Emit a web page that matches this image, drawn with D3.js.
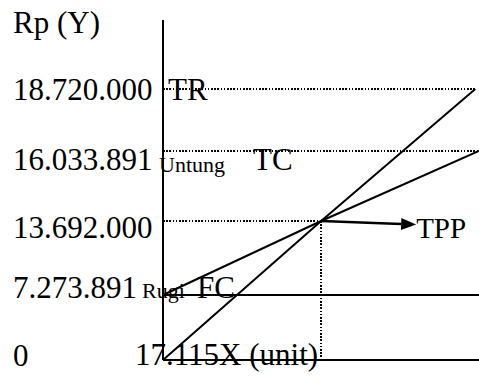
<!DOCTYPE html>
<html><head><meta charset="utf-8">
<script src="https://cdn.jsdelivr.net/npm/d3@7"></script>
<style>
body{margin:0;background:#fff}
</style>
</head><body><svg id="c" width="479" height="382" font-family="'Liberation Serif', 'Times New Roman', Times, 'DejaVu Serif', serif"></svg>
<script>
// ---- data ----
const yTickValues = [0, 7273891, 13692000, 16033891, 18720000];
const yTickLabels = ["0", "7.273.891", "13.692.000", "16.033.891", "18.720.000"];
const bep = {x: 17.115, y: 13692000};
const trX = [0, 17.115, 33.8];
const trY = [0, 13692000, 18720000];
const tcX = [0, 17.115, 34.2];
const tcY = [7273891, 13692000, 16033891];
const fcX = [0, 34.2];
const fcY = [7273891, 7273891];
const curveNames = ["TR", "TC", "FC"];
const areaNames = ["Untung", "Rugi"];
const bepName = "TPP";
const xLabel = "X (unit)";
const yLabel = "Rp (Y)";

// ---- layout ----
const svg = d3.select("#c");
const x = d3.scaleLinear().domain([0, 34.2]).range([163, 479]);
const y = d3.scaleLinear().domain(yTickValues).range([360, 295, 221, 151, 89]);
const labelDy = [6, 3, 17, 19, 11];
const axisTop = 20;

const line = d3.line().x(d => x(d[0])).y(d => y(d[1]));
const zip = (a, b) => a.map((v, i) => [v, b[i]]);

function guide(x1, y1, x2, y2) {
  svg.append("line").attr("x1", x1).attr("y1", y1).attr("x2", x2).attr("y2", y2)
    .attr("stroke", "#000").attr("stroke-width", 1.6).attr("stroke-dasharray", "1.6,1.6")
    .attr("shape-rendering", "crispEdges").attr("fill", "none");
}
guide(x(0), y(trY[2]), x(trX[2]), y(trY[2]));
guide(x(0), y(tcY[2]), x(34.2), y(tcY[2]));
guide(x(0), y(bep.y), x(bep.x), y(bep.y));
guide(x(bep.x), y(bep.y), x(bep.x), y(0));

// axes
svg.append("line").attr("x1", x(0)).attr("x2", x(0)).attr("y1", axisTop).attr("y2", y(0))
  .attr("stroke", "#000").attr("stroke-width", 2);
svg.append("line").attr("x1", x(0)).attr("x2", x(34.2)).attr("y1", y(0)).attr("y2", y(0))
  .attr("stroke", "#000").attr("stroke-width", 2);

// curves
[[trX, trY], [tcX, tcY], [fcX, fcY]].forEach(([a, b]) => {
  svg.append("path").attr("d", line(zip(a, b))).attr("fill", "none")
    .attr("stroke", "#000").attr("stroke-width", 2);
});

// arrow to TPP
const ax0 = x(bep.x), ay0 = y(bep.y);
const tipX = ax0 + 95, tipY = ay0 + 3.5;
const ang = Math.atan2(tipY - ay0, tipX - ax0);
const hl = 15, hw = 6;
const bx = tipX - hl * Math.cos(ang), by = tipY - hl * Math.sin(ang);
svg.append("line").attr("x1", ax0).attr("y1", ay0).attr("x2", bx).attr("y2", by)
  .attr("stroke", "#000").attr("stroke-width", 2.5);
svg.append("polygon").attr("points", [
  [tipX, tipY],
  [bx + hw * Math.sin(ang), by - hw * Math.cos(ang)],
  [bx - hw * Math.sin(ang), by + hw * Math.cos(ang)]
].map(p => p.join(",")).join(" ")).attr("fill", "#000");

// texts
const big = 31, small = 22;
function txt(xp, yp, size, s) {
  svg.append("text").attr("x", xp).attr("y", yp).attr("font-size", size)
    .attr("font-family", "'Liberation Serif', 'Times New Roman', serif").attr("fill", "#000").text(s);
}
txt(13, 33, big, yLabel);
yTickValues.forEach((v, i) => txt(13, y(v) + labelDy[i], big, yTickLabels[i]));
txt(135, 365, big, d3.format(".3f")(bep.x) + xLabel);
txt(168, y(trY[2]) + 11, big, curveNames[0]);
txt(253, y(tcY[2]) + 19, big, curveNames[1]);
txt(197, y(fcY[0]) + 3, big, curveNames[2]);
txt(159, y(tcY[2]) + 21, small, areaNames[0]);
txt(142, y(fcY[0]) + 3, small, areaNames[1]);
txt(tipX, ay0 + 17, 29, bepName);
</script>
</body></html>
